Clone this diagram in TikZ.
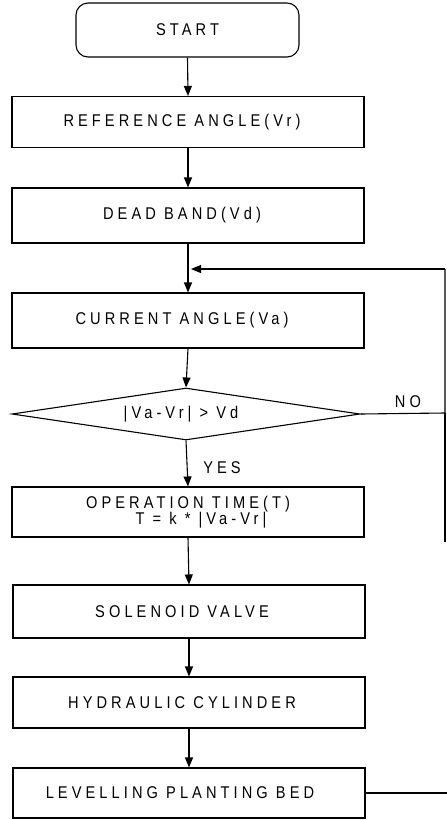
\documentclass[tikz,border=0pt]{standalone}
\usepackage{fontspec}
\setmainfont{Liberation Sans}
\newfontfamily\lab[LetterSpace=24,FakeStretch=0.86]{Liberation Sans}
\usetikzlibrary{arrows.meta,shapes.geometric}
\begin{document}
\begin{tikzpicture}[x=1pt,y=-1pt,
  every node/.style={font=\lab\fontsize{17}{19}\selectfont},
  box/.style={draw,line width=1.1pt,rectangle,minimum width=352pt,minimum height=52pt,inner sep=0pt},
  term/.style={draw,line width=1.1pt,rectangle,rounded corners=12pt,minimum width=223pt,minimum height=54pt,inner sep=0pt},
  decis/.style={draw,line width=1.1pt,diamond,aspect=6.7,minimum width=348pt,minimum height=52pt,inner sep=0pt},
  flow/.style={line width=1.1pt,-{Triangle[length=10pt,width=8pt]}},
  line/.style={line width=1.1pt}]
\useasboundingbox (0,0) rectangle (447,820);
\node[term] (start) at (187.5,30) {START};
\node[box,minimum height=51pt] (ref) at (188,122) {REFERENCE ANGLE(Vr)\hspace*{12pt}};
\node[box,minimum height=55pt] (dead) at (188,215.5) {DEAD BAND(Vd)\hspace*{12pt}};
\node[box,minimum height=55pt] (cur) at (188,320.5) {CURRENT ANGLE(Va)\hspace*{12pt}};
\node[decis] (dec) at (186,414) {|Va-Vr| > Vd\hspace*{10pt}};
\node[box,minimum height=50pt,align=center] (op) at (188,512) {OPERATION TIME(T)\\[-3pt]\hspace*{26pt}T = k * |Va-Vr|};
\node[box,minimum height=53pt] (sol) at (189,611.5) {SOLENOID VALVE\hspace*{14pt}};
\node[box,minimum height=51pt] (hyd) at (189,702.5) {HYDRAULIC CYLINDER\hspace*{14pt}};
\node[box,minimum height=50pt] (lev) at (189,793) {LEVELLING PLANTING BED\hspace*{18pt}};
\node (yes) at (222,468) {YES};
\node (no) at (408,402) {NO};
\coordinate (j) at (188,269);
\coordinate (rt) at (445,269);
\coordinate (rn) at (445,413);
\coordinate (rb) at (445,542);
\coordinate (le) at (447,793);
\draw[flow] (start.south) -- (ref.north);
\draw[flow] (ref.south) -- (dead.north);
\draw[flow] (dead.south) -- (cur.north);
\draw[flow] (cur.south) -- (dec.north);
\draw[flow] (dec.south) -- (op.north);
\draw[flow] (op.south) -- (sol.north);
\draw[flow] (sol.south) -- (hyd.north);
\draw[flow] (hyd.south) -- (lev.north);
\draw[line] (dec.east) -- (rn) -- (rt);
\draw[flow] (rt) -- ([xshift=3pt]j);
\draw[line] (rn) -- (rb);
\draw[line] (lev.east) -- (le);
\end{tikzpicture}
\end{document}
